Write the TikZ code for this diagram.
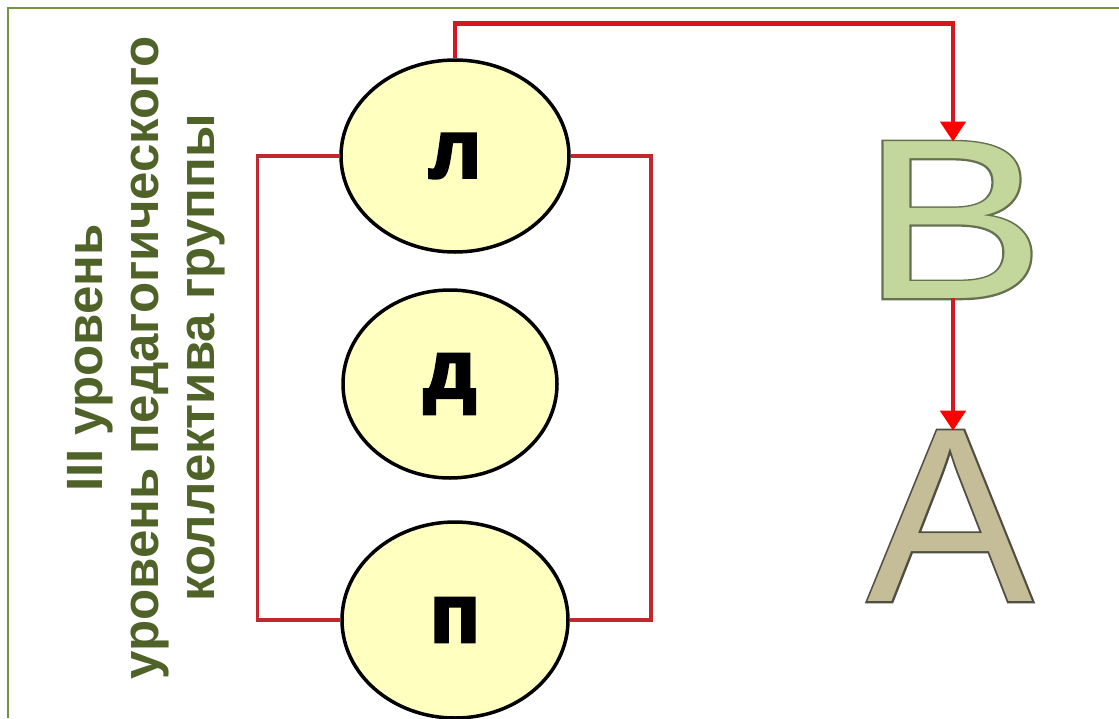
\documentclass[tikz,border=0pt]{standalone}
\usepackage{fontspec}
\usepackage{xcolor}
\usepackage{graphicx}
\usepackage{tikz}
\usetikzlibrary{shapes.geometric, arrows.meta, positioning, calc}
\setmainfont{Liberation Sans}
\newfontfamily\heavyfont{Liberation Sans}[UprightFont={* Bold}, FakeBold=4]
\newfontfamily\edgefont{Liberation Sans}[FakeBold=1.6]
\definecolor{framegreen}{RGB}{119,147,60}
\definecolor{captiongreen}{RGB}{79,98,40}
\definecolor{bubblefill}{RGB}{255,255,192}
\definecolor{ringred}{RGB}{192,40,45}
\definecolor{flowred}{RGB}{214,22,32}
\definecolor{bfill}{RGB}{195,214,155}
\definecolor{bedge}{RGB}{100,112,80}
\definecolor{afill}{RGB}{196,189,151}
\definecolor{aedge}{RGB}{80,78,66}
\tikzset{
    borderline/.style={
        draw=framegreen,
        line width=2pt
    },
    caption/.style={
        text=captiongreen,
        align=center,
        inner sep=0pt,
        font=\fontsize{51}{56}\selectfont\bfseries
    },
    bubble/.style={
        ellipse,
        draw=black,
        line width=3.5pt,
        fill=bubblefill,
        inner sep=0pt,
        font=\fontsize{82}{90}\selectfont\heavyfont
    },
    ringline/.style={
        draw=ringred,
        line width=3.5pt
    },
    flow/.style={
        draw=flowred,
        line width=4.5pt,
        -{Triangle[width=25pt, length=20pt, color=red]}
    },
    letteredge/.style={
        inner sep=0pt,
        outer sep=0pt,
        font=\edgefont
    },
    letterfill/.style={
        inner sep=0pt,
        outer sep=0pt
    }
}
\begin{document}
\begin{tikzpicture}[x=1pt, y=-1pt]
\useasboundingbox (0,0) rectangle (1119,718);

% Frame
\draw[borderline] (8,718) -- (8,8) -- (1119,8);

% Level caption
\node[caption, rotate=90] (levelcap) at (146,358) {III уровень\\уровень педагогического\\коллектива группы};

% Bubbles
\node[bubble, minimum width=228pt, minimum height=192pt] (lnode) at (455,156) {л};
\node[bubble, minimum width=214pt, minimum height=188pt] (dnode) at (450,384) {д};
\node[bubble, minimum width=226pt, minimum height=196pt] (pnode) at (455,620) {п};

% Ring round the bubbles
\draw[ringline] (lnode.west) -- ++(-82,0) |- (pnode.west);
\draw[ringline] (lnode.east) -- ++(80,0) |- (pnode.east);

% Letters B and A
\node[letteredge, text=bedge, font=\fontsize{228}{228}\selectfont\edgefont] at (953,220) {\scalebox{1.21}[1]{B}};
\node[letterfill, text=bfill, font=\fontsize{228}{228}\selectfont] (bletter) at (953,220) {\scalebox{1.21}[1]{B}};
\node[letteredge, text=aedge, font=\fontsize{248}{248}\selectfont\edgefont] at (950,516) {A};
\node[letterfill, text=afill, font=\fontsize{248}{248}\selectfont] (aletter) at (950,516) {A};

% Arrows
\draw[flow] (lnode.north) -- ++(0,-35) -| (bletter.north);
\draw[flow] (bletter.south) -- (bletter.south |- aletter.north);

\end{tikzpicture}
\end{document}
